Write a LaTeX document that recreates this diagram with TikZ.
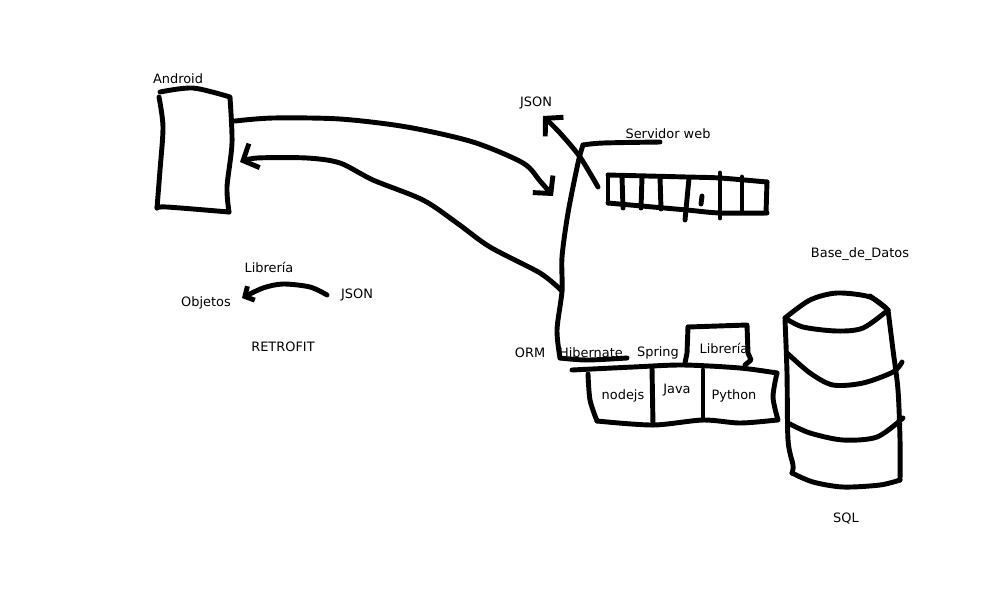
\documentclass[tikz,border=0pt]{standalone}
\usepackage{fontspec}
\setmainfont{DejaVu Sans}
\usetikzlibrary{arrows.meta}
\begin{document}
\begin{tikzpicture}[x=0.02cm, y=-0.02cm,
  pen/.style={line width=2.8pt, line cap=round, line join=round},
  lbl/.style={inner sep=0pt, font=\fontsize{7.35}{9}\selectfont},
  barb/.style={-{Straight Barb[length=7pt, width=15pt]}},
  smallbarb/.style={-{Straight Barb[length=4pt, width=9pt]}}]
\useasboundingbox (0,0) rectangle (1000,600);
\fill[white] (0,0) rectangle (1000,600);
\node[lbl] (android) at (178,79) {Android};
\node[lbl] (jsonup) at (536,103) {JSON};
\node[lbl] (servidor) at (668,134) {Servidor web};
\node[lbl] (basedatos) at (860,254) {Base\_de\_Datos};
\node[lbl] (libreria) at (269,267) {Librería};
\node[lbl] (objetos) at (206,303) {Objetos};
\node[lbl] (jsonleft) at (357,295) {JSON};
\node[lbl] (retrofit) at (283,347) {RETROFIT};
\node[lbl] (orm) at (530,353) {ORM};
\node[lbl] (hibernate) at (591,353) {Hibernate};
\node[lbl] (spring) at (658,353) {Spring};
\node[lbl] (libbox) at (724,348) {Librería};
\node[lbl] (nodejs) at (623,396) {nodejs};
\node[lbl] (java) at (677,390) {Java};
\node[lbl] (python) at (734,396) {Python};
\node[lbl] (sql) at (846,519) {SQL};
\coordinate (andr-out) at (235,121);
\coordinate (andr-in) at (240,162);
\coordinate (srv-in) at (553,196);
\coordinate (srv-join) at (562,291);
\coordinate (json-out) at (598,187);
\coordinate (json-tip) at (543,116);
\coordinate (lib-start) at (327,295);
\coordinate (lib-tip) at (242,298);
\draw[pen] plot[smooth] coordinates {(160,92) (193,88) (230,97)};
\draw[pen] plot[smooth] coordinates {(159,97) (163,127) (160,170) (157,208)};
\draw[pen] plot[smooth] coordinates {(157,208) (167,207) (229,212)};
\draw[pen] plot[smooth] coordinates {(230,98) (232,143) (227,187) (229,212)};
\draw[pen, barb] plot[smooth] coordinates {(andr-out) (273,118) (340,119) (407,127) (473,142) (523,163) (540,181) (srv-in)};
\draw[pen, barb] plot[smooth] coordinates {(srv-join) (540,273) (490,247) (457,223) (423,200) (373,180) (340,163) (307,158) (257,158) (andr-in)};
\draw[pen] plot[smooth] coordinates {(560,358) (557,330) (srv-join) (562,257) (568,213) (578,163) (583,145)};
\draw[pen] plot[smooth] coordinates {(583,145) (603,143) (660,142)};
\draw[pen] plot[smooth] coordinates {(560,358) (587,360) (627,358)};
\draw[pen, barb] plot[smooth] coordinates {(json-out) (580,157) (560,133) (json-tip)};
\draw[pen] (608,175) -- (608,203);
\draw[pen] plot[smooth] coordinates {(608,175) (687,177) (720,178) (767,182)};
\draw[pen] plot[smooth] coordinates {(608,203) (653,207) (687,210) (720,213) (767,213)};
\draw[pen] (767,182) -- (766,213);
\draw[pen] (622,177) -- (623,208);
\draw[pen] (642,177) -- (641,208);
\draw[pen] (660,177) -- (661,209);
\draw[pen] (689,178) -- (685,220);
\draw[pen] (702,196) -- (701,204);
\draw[pen] (720,173) -- (720,218);
\draw[pen] (742,177) -- (742,212);
\draw[pen] plot[smooth] coordinates {(572,370) (633,367) (683,365) (740,368) (777,373)};
\draw[pen] plot[smooth] coordinates {(588,374) (590,400) (597,421)};
\draw[pen] plot[smooth] coordinates {(597,421) (653,425) (703,420) (740,423) (777,420)};
\draw[pen] plot[smooth] coordinates {(777,373) (773,397) (778,420)};
\draw[pen] (652,368) -- (653,425);
\draw[pen] (703,370) -- (703,420);
\draw[pen] (688,327) -- (747,325) -- (748,353) -- (751,360) -- (745,365);
\draw[pen] (688,327) -- (687,353) -- (685,363);
\draw[pen] plot[smooth] coordinates {(785,318) (810,300) (837,293) (870,297) (888,310)};
\draw[pen] plot[smooth] coordinates {(785,318) (803,327) (837,331) (863,328) (888,310)};
\draw[pen] (870,296) -- (886,308);
\draw[pen] plot[smooth] coordinates {(785,320) (787,373) (788,440) (793,465) (792,473)};
\draw[pen] plot[smooth] coordinates {(792,473) (813,482) (843,487) (880,485) (900,480)};
\draw[pen] plot[smooth] coordinates {(888,310) (893,350) (898,390) (900,440) (900,480)};
\draw[pen] plot[smooth] coordinates {(787,353) (810,373) (833,385) (863,383) (893,372) (902,362)};
\draw[pen] plot[smooth] coordinates {(788,423) (810,433) (843,440) (877,437) (903,418)};
\draw[pen, smallbarb] plot[smooth] coordinates {(lib-start) (310,287) (283,284) (263,288) (lib-tip)};
\end{tikzpicture}
\end{document}
